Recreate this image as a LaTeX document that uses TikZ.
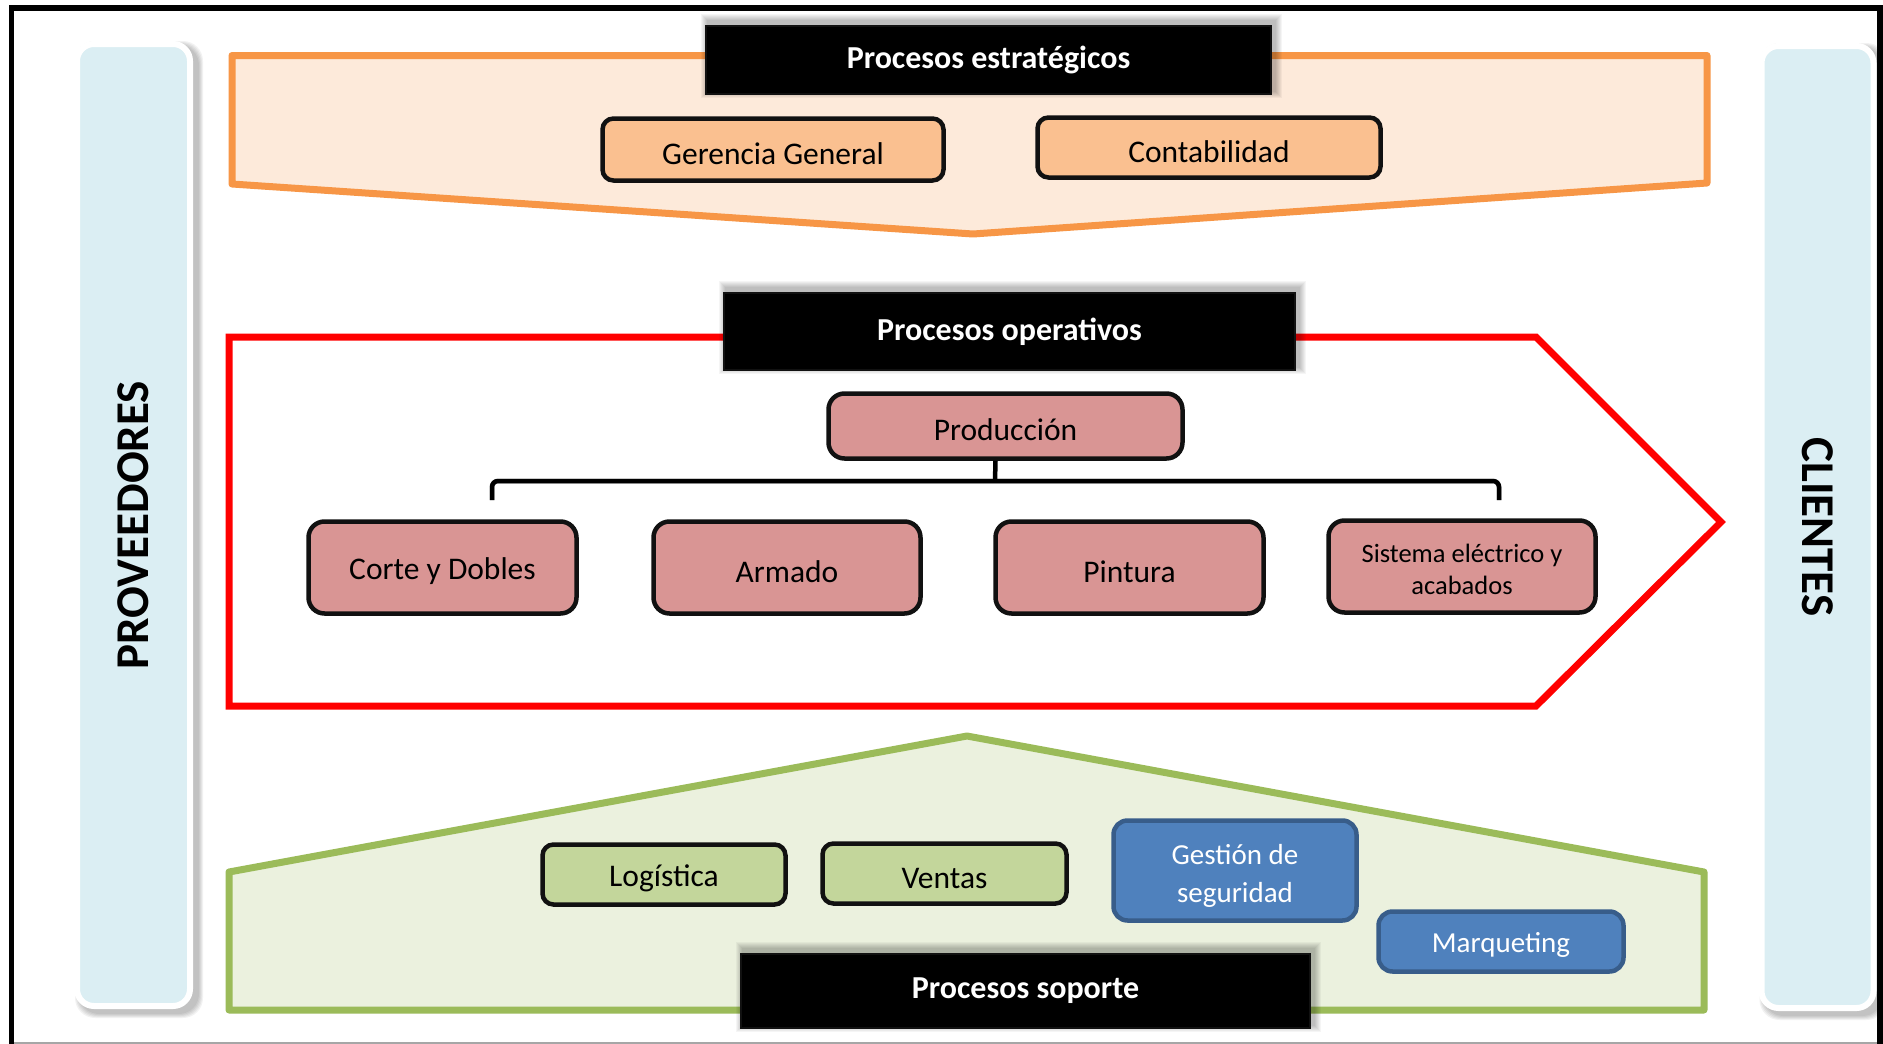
\documentclass[tikz,border=0pt]{standalone}
\usepackage{fontspec}
\setmainfont{Carlito}

\definecolor{framegray}{HTML}{A6A6A6}
\definecolor{barblue}{HTML}{DBEEF3}
\definecolor{orgline}{HTML}{F79646}
\definecolor{orglight}{HTML}{FDEADA}
\definecolor{orgfill}{HTML}{FAC090}
\definecolor{redline}{HTML}{FF0000}
\definecolor{pinkfill}{HTML}{D99594}
\definecolor{grnline}{HTML}{9BBB59}
\definecolor{grnlight}{HTML}{EBF1DE}
\definecolor{grnfill}{HTML}{C3D69B}
\definecolor{bluefill}{HTML}{4F81BD}
\definecolor{blueline}{HTML}{385D8A}
\definecolor{boxline}{HTML}{111111}

\pgfdeclarelayer{back}
\pgfdeclarelayer{shade}
\pgfsetlayers{back,shade,main}

% top strut: lowers the label a little inside its box
\newcommand{\lowstrut}{\rule{0pt}{0.95em}}

\tikzset{
  basebox/.style={draw=boxline, line width=4.5pt, inner sep=0pt, align=center,
    font=\fontsize{31.5}{38}\selectfont},
  orgbox/.style={basebox, fill=orgfill, rounded corners=11pt},
  pinkbox/.style={basebox, fill=pinkfill, rounded corners=16pt},
  grnbox/.style={basebox, fill=grnfill, rounded corners=11pt},
  bluebox/.style={basebox, draw=blueline, fill=bluefill, text=white,
    rounded corners=14pt, font=\fontsize{29}{38}\selectfont},
  header/.style={fill=black, draw=boxline, line width=1.5pt, text=white, inner sep=0pt,
    font=\bfseries\fontsize{32}{38}\selectfont},
  sidebar/.style={fill=barblue, draw=white, line width=6pt, rounded corners=17pt, inner sep=0pt},
  sidetext/.style={font=\bfseries\fontsize{47}{56}\selectfont, text=black},
  band/.style={line width=7pt, line join=round},
  bracket/.style={draw=black, line width=4.5pt, rounded corners=6pt},
}

\begin{document}
\begin{tikzpicture}[x=1pt,y=-1pt]
\useasboundingbox (0,0) rectangle (1883,1044);

% ---------- process bands ----------
\begin{pgfonlayer}{back}
  \fill[white] (0,0) rectangle (1883,1044);
  % strategic band (arrow pointing down)
  \filldraw[band, draw=orgline, fill=orglight]
    (232,55.5) -- (1707,55.5) -- (1707,183) -- (973,234) -- (232,184) -- cycle;
  % operative band (arrow pointing right)
  \draw[band, draw=redline, line join=miter]
    (229,337) -- (1536,337) -- (1721,522) -- (1536,706) -- (229,706) -- cycle;
  % support band (house shape)
  \filldraw[band, draw=grnline, fill=grnlight]
    (229,872) -- (967,736) -- (1704,872) -- (1704,1010) -- (229,1010) -- cycle;
\end{pgfonlayer}

% ---------- suppliers / customers ----------
\node[sidebar, minimum width=113pt, minimum height=962pt] (provbar) at (133.5,525) {};
\node[sidebar, minimum width=112pt, minimum height=962pt] (clibar) at (1817.5,527) {};
\node[sidetext, rotate=90]  (prov) at (provbar.center) {PROVEEDORES};
\node[sidetext, rotate=-90] (cli)  at (clibar.center)  {CLIENTES};

% ---------- headers ----------
\node[header, minimum width=565pt, minimum height=68pt] (hstrat) at (988.5,60)   {Procesos estratégicos};
\node[header, minimum width=571pt, minimum height=77pt] (hoper)  at (1009.5,331.5) {Procesos operativos};
\node[header, minimum width=569pt, minimum height=74pt] (hsop)   at (1025.5,991) {Procesos soporte};

% ---------- strategic processes ----------
\node[orgbox, minimum width=341pt, minimum height=62pt] (ger)  at (773,149.5)  {\lowstrut Gerencia General};
\node[orgbox, minimum width=343pt, minimum height=60pt] (cont) at (1209,147.5) {\lowstrut Contabilidad};

% ---------- operative processes ----------
\node[pinkbox, minimum width=354pt, minimum height=65pt] (prod)   at (1005.5,426)  {\lowstrut Producción};
\node[pinkbox, minimum width=268pt, minimum height=92pt] (corte)  at (442.5,567.5) {\lowstrut Corte y Dobles};
\node[pinkbox, minimum width=267pt, minimum height=92pt] (armado) at (787,567.5)   {\lowstrut Armado};
\node[pinkbox, minimum width=268pt, minimum height=92pt] (pint)   at (1129.5,567.5) {\lowstrut Pintura};
\node[pinkbox, minimum width=267pt, minimum height=92pt,
      font=\fontsize{26.5}{32}\selectfont] (sist) at (1462,566.5) {\lowstrut Sistema eléctrico y\\acabados};

% ---------- support processes ----------
\node[grnbox, minimum width=243pt, minimum height=60pt] (logis)  at (664,874.5)   {\lowstrut Logística};
\node[grnbox, minimum width=244pt, minimum height=60pt] (ventas) at (944.5,873.5) {\lowstrut Ventas};
\node[bluebox, minimum width=243pt, minimum height=100pt] (gest)  at (1235,870.5)  {\rule{0pt}{1.05em}Gestión de\\seguridad};
\node[bluebox, minimum width=245pt, minimum height=60pt] (marq)   at (1501,941.5)  {\lowstrut Marqueting};

% ---------- production bracket ----------
\coordinate (bl)   at (492,500);
\coordinate (br)   at (1499,500);
\coordinate (bmid) at (995,481);
\draw[bracket, draw=black!25, line width=5pt, shift={(2,5)}] (bl) |- (bmid) -| (br);
\draw[bracket] (bl) |- (bmid) -| (br);
\draw[bracket] ([xshift=-10pt]prod.south) -- (bmid);

% ---------- soft shadows ----------
\begin{pgfonlayer}{shade}
  \foreach \n in {hstrat,hoper,hsop}{
    \foreach \k in {1,...,7}{
      \fill[black, opacity=0.04]
        ([shift={({3-\k},{-4-\k})}]\n.north west) rectangle ([shift={({3+\k},{-4+\k})}]\n.south east);
    }
  }
  \foreach \n in {provbar,clibar}{
    \foreach \k in {1,...,5}{
      \fill[black, opacity=0.05, rounded corners=20pt]
        ([shift={({6-\k},{5-\k})}]\n.north west) rectangle ([shift={({5+\k},{4+\k})}]\n.south east);
    }
  }
\end{pgfonlayer}

% ---------- outer frame ----------
\draw[framegray, line width=1.5pt] (11,1043) -- (1880,1043);
\draw[black, line width=5.5pt, line join=miter] (11.5,1044) -- (11.5,8) -- (1880,8) -- (1880,1044);
\end{tikzpicture}
\end{document}
